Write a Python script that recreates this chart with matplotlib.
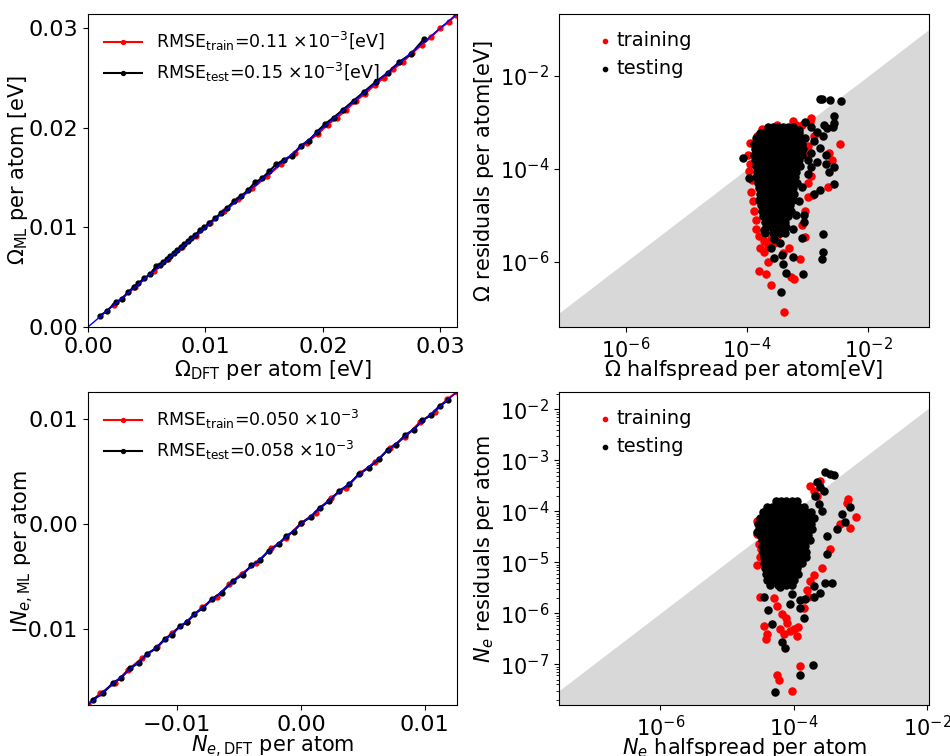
import numpy as np
import matplotlib.pyplot as plt
from matplotlib.ticker import FixedLocator, LogLocator, NullLocator, NullFormatter

# ---------- DATA ----------
# Omega parity (eV per atom)
om_test_dft = [0.0010, 0.0016, 0.0024, 0.0029, 0.0034, 0.0039, 0.0043, 0.0048, 0.0053, 0.0058,
               0.0061, 0.0064, 0.0067, 0.0070, 0.0073, 0.0076, 0.0079, 0.0082, 0.0085, 0.0088,
               0.0091, 0.0095, 0.0099, 0.0103, 0.0108, 0.0113, 0.0118, 0.0124, 0.0130, 0.0136,
               0.0142, 0.0148, 0.0154, 0.0160, 0.0167, 0.0174, 0.0181, 0.0188, 0.0195, 0.0202,
               0.0209, 0.0217, 0.0226, 0.0235, 0.0245, 0.0255, 0.0265, 0.0275, 0.0286]
om_test_ml = [0.0011, 0.0016, 0.0025, 0.0028, 0.0035, 0.0040, 0.0044, 0.0049, 0.0053, 0.0061,
              0.0062, 0.0065, 0.0068, 0.0071, 0.0074, 0.0077, 0.0080, 0.0083, 0.0086, 0.0089,
              0.0092, 0.0097, 0.0100, 0.0104, 0.0109, 0.0114, 0.0119, 0.0126, 0.0131, 0.0137,
              0.0145, 0.0149, 0.0156, 0.0163, 0.0168, 0.0172, 0.0182, 0.0187, 0.0196, 0.0204,
              0.0210, 0.0218, 0.0227, 0.0236, 0.0246, 0.0255, 0.0266, 0.0274, 0.0289]
om_train_dft = [0.0022, 0.0040, 0.0056, 0.0068, 0.0080, 0.0092, 0.0104, 0.0116, 0.0128, 0.0140,
                0.0152, 0.0164, 0.0176, 0.0186, 0.0196, 0.0204, 0.0212, 0.0220, 0.0228, 0.0236,
                0.0244, 0.0252, 0.0260, 0.0268, 0.0276, 0.0284, 0.0292, 0.0300, 0.0307, 0.0313]
om_train_ml = [0.0022, 0.0040, 0.0056, 0.0068, 0.0080, 0.0091, 0.0104, 0.0116, 0.0128, 0.0139,
               0.0151, 0.0163, 0.0175, 0.0185, 0.0194, 0.0203, 0.0210, 0.0218, 0.0227, 0.0234,
               0.0243, 0.0250, 0.0259, 0.0266, 0.0275, 0.0283, 0.0291, 0.0300, 0.0306, 0.0313]

# N_e parity (per atom)
ne_test_dft = [-0.0168, -0.0160, -0.0152, -0.0145, -0.0138, -0.0131, -0.0124, -0.0117, -0.0110, -0.0104,
               -0.0098, -0.0092, -0.0086, -0.0079, -0.0072, -0.0064, -0.0055, -0.0047, -0.0040, -0.0033,
               -0.0026, -0.0018, -0.0012, -0.0006, 0.0000, 0.0008, 0.0015, 0.0023, 0.0031, 0.0039,
               0.0047, 0.0055, 0.0063, 0.0070, 0.0077, 0.0084, 0.0091, 0.0098, 0.0105, 0.0112, 0.0119]
ne_test_ml = [-0.0167, -0.0161, -0.0151, -0.0146, -0.0137, -0.0132, -0.0123, -0.0118, -0.0109, -0.0105,
              -0.0097, -0.0093, -0.0085, -0.0080, -0.0071, -0.0065, -0.0054, -0.0048, -0.0039, -0.0034,
              -0.0025, -0.0019, -0.0011, -0.0007, 0.0001, 0.0007, 0.0016, 0.0022, 0.0032, 0.0038,
              0.0048, 0.0054, 0.0062, 0.0071, 0.0076, 0.0085, 0.0090, 0.0099, 0.0104, 0.0113, 0.0118]
ne_train_dft = [-0.0172, -0.0162, -0.0150, -0.0140, -0.0128, -0.0116, -0.0104, -0.0092, -0.0080, -0.0068,
                -0.0058, -0.0048, -0.0036, -0.0024, -0.0012, 0.0000, 0.0012, 0.0024, 0.0036, 0.0048,
                0.0060, 0.0072, 0.0084, 0.0096, 0.0108, 0.0118, 0.0126]
ne_train_ml = [-0.0171, -0.0161, -0.0151, -0.0139, -0.0127, -0.0117, -0.0103, -0.0093, -0.0079, -0.0069,
               -0.0057, -0.0047, -0.0037, -0.0023, -0.0013, 0.0001, 0.0011, 0.0025, 0.0035, 0.0049,
               0.0059, 0.0073, 0.0083, 0.0097, 0.0107, 0.0119, 0.0126]

# Omega residual vs halfspread, log10 values
om_train_lx = [-3.95, -3.98, -3.95, -3.97, -3.92, -3.93, -3.90, -3.88, -3.85, -3.85, -3.80, -3.72,
               -3.78, -3.65, -3.60, -3.55, -3.50, -3.72, -3.81, -3.69, -3.61, -3.39, -3.28, -3.22,
               -3.12, -3.04, -3.10, -3.05, -3.00, -2.92, -2.94, -2.67, -3.00, -2.65, -2.60, -2.46,
               -2.94, -2.97, -3.10, -3.25, -3.50, -3.75, -3.00, -2.90, -3.65, -3.40, -3.30, -3.45,
               -3.83, -3.70, -3.58, -3.48, -3.20, -3.02]
om_train_ly = [-3.45, -3.70, -3.90, -4.05, -4.25, -4.50, -4.70, -4.90, -5.10, -5.30, -5.45, -5.55,
               -5.70, -5.65, -5.50, -5.60, -5.45, -5.78, -6.19, -6.26, -6.49, -7.08, -6.32, -6.37,
               -5.94, -5.46, -5.20, -4.90, -4.60, -4.56, -4.16, -4.38, -4.30, -3.66, -3.80, -3.46,
               -2.91, -3.00, -3.05, -2.97, -3.05, -3.15, -3.50, -3.30, -6.00, -5.80, -5.70, -5.30,
               -3.30, -5.35, -5.25, -5.15, -3.05, -3.70]

om_test_out_lx = [-2.79, -2.76, -2.63, -2.45, -2.56, -2.57, -2.58, -2.73, -2.68, -3.15, -4.06, -3.97,
                  -2.57, -2.65, -2.56, -2.79, -2.90, -3.06, -3.06, -2.74, -2.74, -2.77, -3.09, -3.56,
                  -3.43, -3.24, -3.40, -3.35, -3.07, -3.44, -3.45, -3.72, -3.05, -2.95, -2.85, -2.75,
                  -2.90, -2.80, -2.95, -2.70, -2.85, -2.95, -2.70, -3.00, -3.00, -3.10, -3.15, -3.20,
                  -3.25, -3.55, -3.60]
om_test_out_ly = [-2.49, -2.50, -2.53, -2.55, -2.87, -3.02, -3.10, -3.05, -3.12, -3.16, -3.77, -4.20,
                  -3.95, -4.06, -4.32, -4.45, -4.54, -4.99, -5.15, -5.40, -5.79, -5.94, -5.48, -5.91,
                  -5.85, -5.90, -6.05, -6.23, -6.26, -6.65, -5.60, -5.31, -3.00, -3.10, -3.20, -3.30,
                  -3.40, -3.55, -3.65, -3.70, -3.85, -3.95, -3.90, -3.80, -4.10, -4.40, -4.70, -5.00,
                  -5.30, -5.50, -5.70]
# dense core of the testing cloud, one row of log10(halfspread) per log10(residual)
om_core_ly = [-3.10, -3.22, -3.34, -3.46, -3.58, -3.70, -3.82, -3.94, -4.06, -4.18, -4.30,
              -4.42, -4.54, -4.66, -4.78, -4.90, -5.02, -5.14, -5.26, -5.38]
om_core_lx = [
    [-3.65, -3.57, -3.49, -3.41, -3.33, -3.25],
    [-3.78, -3.70, -3.62, -3.54, -3.46, -3.38, -3.30, -3.22, -3.14],
    [-3.85, -3.77, -3.69, -3.61, -3.53, -3.45, -3.37, -3.29, -3.21, -3.13, -3.05],
    [-3.89, -3.81, -3.73, -3.65, -3.57, -3.49, -3.41, -3.33, -3.25, -3.17, -3.09],
    [-3.87, -3.79, -3.71, -3.63, -3.55, -3.47, -3.39, -3.31, -3.23, -3.15, -3.07],
    [-3.89, -3.81, -3.73, -3.65, -3.57, -3.49, -3.41, -3.33, -3.25, -3.17, -3.09],
    [-3.87, -3.79, -3.71, -3.63, -3.55, -3.47, -3.39, -3.31, -3.23, -3.15],
    [-3.85, -3.77, -3.69, -3.61, -3.53, -3.45, -3.37, -3.29, -3.21, -3.13],
    [-3.83, -3.75, -3.67, -3.59, -3.51, -3.43, -3.35, -3.27, -3.19],
    [-3.85, -3.77, -3.69, -3.61, -3.53, -3.45, -3.37, -3.29, -3.21],
    [-3.82, -3.74, -3.66, -3.58, -3.50, -3.42, -3.34, -3.26, -3.18],
    [-3.80, -3.72, -3.64, -3.56, -3.48, -3.40, -3.32, -3.24],
    [-3.78, -3.70, -3.62, -3.54, -3.46, -3.38, -3.30, -3.22],
    [-3.80, -3.72, -3.64, -3.56, -3.48, -3.40, -3.32, -3.24],
    [-3.77, -3.69, -3.61, -3.53, -3.45, -3.37, -3.29],
    [-3.76, -3.68, -3.60, -3.52, -3.44, -3.36, -3.28],
    [-3.73, -3.65, -3.57, -3.49, -3.41, -3.33],
    [-3.70, -3.62, -3.54, -3.46, -3.38],
    [-3.68, -3.60, -3.52, -3.44, -3.36],
    [-3.70, -3.58, -3.46, -3.38],
]

# N_e residual vs halfspread, log10 values
ne_train_lx = [-3.18, -3.20, -3.06, -3.16, -3.30, -3.45, -3.58, -3.70, -4.49, -4.47, -4.51, -4.45,
               -4.40, -4.42, -4.25, -4.22, -4.03, -3.90, -4.18, -4.10, -4.05, -4.15, -4.00, -3.95,
               -4.20, -4.12, -3.93, -3.78, -3.75, -4.55, -4.55, -4.52, -4.50, -4.55, -3.70, -3.65,
               -3.60, -3.75, -4.30, -4.25, -3.85, -3.80]
ne_train_ly = [-3.76, -3.84, -4.12, -4.33, -4.25, -4.74, -5.12, -5.26, -4.74, -4.84, -5.69, -6.25,
               -6.41, -6.50, -7.21, -7.31, -7.52, -7.03, -6.02, -6.20, -6.35, -6.40, -6.30, -6.45,
               -6.30, -6.10, -6.27, -5.69, -5.36, -4.20, -4.45, -4.65, -4.90, -5.05, -3.60, -3.70,
               -3.40, -3.50, -5.70, -5.85, -5.90, -5.55]

ne_test_out_lx = [-3.53, -3.45, -3.40, -3.65, -3.60, -3.55, -3.15, -3.28, -3.23, -3.35, -3.50, -3.50,
                  -3.53, -3.43, -3.60, -3.70, -3.83, -3.70, -3.85, -3.90, -3.71, -3.91, -4.28, -4.18,
                  -4.13, -4.39, -4.33, -4.44, -4.55, -4.20, -4.03, -3.90, -4.05, -3.68, -3.62, -3.58]
ne_test_out_ly = [-3.23, -3.26, -3.28, -3.43, -3.53, -3.60, -3.92, -4.05, -4.22, -4.35, -4.48, -4.84,
                  -5.41, -5.41, -5.61, -5.46, -5.72, -5.68, -6.10, -5.90, -7.01, -7.21, -7.54, -6.57,
                  -6.69, -5.93, -6.21, -5.69, -4.41, -5.49, -5.62, -5.75, -5.82, -3.70, -3.85, -4.00]
ne_core_ly = [-3.80, -3.91, -4.02, -4.13, -4.24, -4.35, -4.46, -4.57, -4.68, -4.79, -4.90,
              -5.01, -5.12, -5.23, -5.34, -5.45]
ne_core_lx = [
    [-4.27, -4.19, -4.11, -4.03, -3.95],
    [-4.40, -4.32, -4.24, -4.16, -4.08, -4.00, -3.92, -3.84],
    [-4.46, -4.38, -4.30, -4.22, -4.14, -4.06, -3.98, -3.90, -3.82, -3.74],
    [-4.50, -4.42, -4.34, -4.26, -4.18, -4.10, -4.02, -3.94, -3.86, -3.78, -3.70],
    [-4.54, -4.46, -4.38, -4.30, -4.22, -4.14, -4.06, -3.98, -3.90, -3.82, -3.74],
    [-4.52, -4.44, -4.36, -4.28, -4.20, -4.12, -4.04, -3.96, -3.88, -3.80, -3.72],
    [-4.50, -4.42, -4.34, -4.26, -4.18, -4.10, -4.02, -3.94, -3.86, -3.78],
    [-4.48, -4.40, -4.32, -4.24, -4.16, -4.08, -4.00, -3.92, -3.84, -3.76],
    [-4.47, -4.39, -4.31, -4.23, -4.15, -4.07, -3.99, -3.91, -3.83],
    [-4.46, -4.38, -4.30, -4.22, -4.14, -4.06, -3.98, -3.90, -3.82],
    [-4.45, -4.37, -4.29, -4.21, -4.13, -4.05, -3.97, -3.89, -3.81],
    [-4.44, -4.36, -4.28, -4.20, -4.12, -4.04, -3.96, -3.88],
    [-4.43, -4.35, -4.27, -4.19, -4.11, -4.03, -3.95],
    [-4.42, -4.34, -4.26, -4.18, -4.10, -4.02, -3.94],
    [-4.40, -4.32, -4.24, -4.16, -4.08, -4.00],
    [-4.36, -4.24, -4.12, -4.02],
]

om_lim = (0.0, 0.0314)
ne_lim = (-0.0172, 0.0126)
om_log_xlim = (10 ** -7.1, 10 ** -1.0)
om_log_ylim = (10 ** -7.4, 10 ** -0.67)
ne_log_xlim = (10 ** -7.52, 10 ** -1.97)
ne_log_ylim = (10 ** -7.8, 10 ** -1.66)


def flatten_core(ly_rows, lx_rows):
    xs = [x for row in lx_rows for x in row]
    ys = [y for y, row in zip(ly_rows, lx_rows) for _ in row]
    return xs, ys


FS = 15

fig = plt.figure(figsize=(9.5, 7.56), dpi=100)
ax1 = fig.add_axes([0.0926, 0.5675, 0.3884, 0.414])
ax2 = fig.add_axes([0.5884, 0.5675, 0.3895, 0.414])
ax3 = fig.add_axes([0.0926, 0.0675, 0.3884, 0.414])
ax4 = fig.add_axes([0.5884, 0.0675, 0.3895, 0.414])


def parity(ax, trx, try_, tex, tey, lim, lab_train, lab_test):
    ax.plot(trx, try_, "r.-", ms=7, lw=1.5, label=lab_train)
    ax.plot(tex, tey, "k.-", ms=7, lw=1.5, label=lab_test)
    ax.plot(lim, lim, "b-", lw=1.0)
    ax.set_xlim(lim)
    ax.set_ylim(lim)
    ax.tick_params(labelsize=16)
    ax.legend(loc="upper left", frameon=False, fontsize=12.5, handlelength=2.2,
              markerscale=0.8)


def residuals(ax, trx, try_, tex, tey, xlim, ylim):
    ax.fill_between(xlim, ylim[0], xlim, color="grey", alpha=0.3, lw=0)
    ax.scatter(10 ** np.array(trx), 10 ** np.array(try_), s=26, c="red", label="training")
    ax.scatter(10 ** np.array(tex), 10 ** np.array(tey), s=26, c="black", label="testing")
    ax.set_xscale("log")
    ax.set_yscale("log")
    ax.set_xlim(xlim)
    ax.set_ylim(ylim)
    ax.tick_params(labelsize=FS)
    ax.legend(loc="upper left", bbox_to_anchor=(0.06, 1.0), frameon=False, fontsize=14,
              scatterpoints=1, markerscale=0.6, handlelength=0.6, handletextpad=0.3,
              borderaxespad=0.5, labelspacing=0.45)


# ---------- Omega parity ----------
parity(ax1, om_train_dft, om_train_ml, om_test_dft, om_test_ml, om_lim,
       r"RMSE$_{\mathrm{train}}$=0.11 $\times10^{-3}$[eV]",
       r"RMSE$_{\mathrm{test}}$=0.15 $\times10^{-3}$[eV]")
ax1.set_xticks([0.0, 0.01, 0.02, 0.03])
ax1.set_yticks([0.0, 0.01, 0.02, 0.03])
ax1.set_xlabel(r"$\Omega_{\mathrm{DFT}}$ per atom [eV]", fontsize=FS, labelpad=1)
ax1.set_ylabel(r"$\Omega_{\mathrm{ML}}$ per atom [eV]", fontsize=FS)
ax1.yaxis.set_label_coords(-0.157, 0.5)

# ---------- Omega residuals ----------
cx, cy = flatten_core(om_core_ly, om_core_lx)
residuals(ax2, om_train_lx, om_train_ly, om_test_out_lx + cx, om_test_out_ly + cy,
          om_log_xlim, om_log_ylim)
ax2.xaxis.set_major_locator(FixedLocator([1e-6, 1e-4, 1e-2]))
ax2.yaxis.set_major_locator(FixedLocator([1e-6, 1e-4, 1e-2]))
ax2.xaxis.set_minor_locator(NullLocator())
ax2.yaxis.set_minor_locator(NullLocator())
ax2.set_xlabel(r"$\Omega$ halfspread per atom[eV]", fontsize=FS, labelpad=-3)
ax2.set_ylabel(r"$\Omega$ residuals per atom[eV]", fontsize=FS)
ax2.yaxis.set_label_coords(-0.17, 0.5)

# ---------- N_e parity ----------
parity(ax3, ne_train_dft, ne_train_ml, ne_test_dft, ne_test_ml, ne_lim,
       r"RMSE$_{\mathrm{train}}$=0.050 $\times10^{-3}$",
       r"RMSE$_{\mathrm{test}}$=0.058 $\times10^{-3}$")
ax3.set_xticks([-0.01, 0.0, 0.01])
ax3.set_yticks([-0.01, 0.0, 0.01])
ax3.set_xlabel(r"$N_{e,\mathrm{DFT}}$ per atom", fontsize=FS, labelpad=-1)
ax3.set_ylabel(r"$N_{e,\mathrm{ML}}$ per atom", fontsize=FS)
ax3.yaxis.set_label_coords(-0.141, 0.5)

# ---------- N_e residuals ----------
cx, cy = flatten_core(ne_core_ly, ne_core_lx)
residuals(ax4, ne_train_lx, ne_train_ly, ne_test_out_lx + cx, ne_test_out_ly + cy,
          ne_log_xlim, ne_log_ylim)
ax4.xaxis.set_major_locator(FixedLocator([1e-6, 1e-4, 1e-2]))
ax4.xaxis.set_minor_locator(NullLocator())
ax4.yaxis.set_major_locator(LogLocator(base=10, numticks=12))
ax4.yaxis.set_minor_locator(LogLocator(base=10, subs=np.arange(2, 10), numticks=12))
ax4.yaxis.set_minor_formatter(NullFormatter())
ax4.set_xlabel(r"$N_e$ halfspread per atom", fontsize=FS, labelpad=-3)
ax4.set_ylabel(r"$N_e$ residuals per atom", fontsize=FS)
ax4.yaxis.set_label_coords(-0.17, 0.5)

fig.savefig("out.png", dpi=100)
